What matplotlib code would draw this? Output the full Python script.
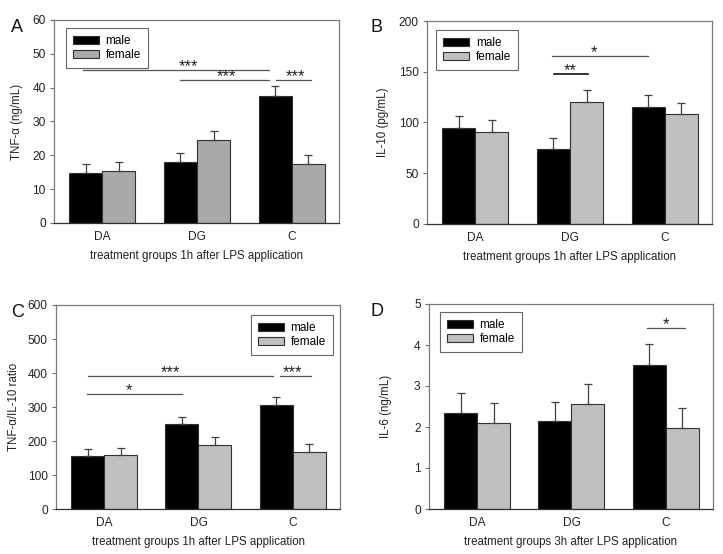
import matplotlib
matplotlib.use("Agg")
import matplotlib.pyplot as plt
import matplotlib.transforms as mtransforms
import numpy as np

plt.rcParams['font.family'] = ['Liberation Sans', 'DejaVu Sans']

groups = ["DA", "DG", "C"]
series = ["male", "female"]

# Panel A: TNF-alpha (ng/mL), 1h
a_male = [14.8, 18.0, 37.6]
a_male_err = [2.6, 2.65, 2.8]
a_female = [15.4, 24.4, 17.4]
a_female_err = [2.6, 2.7, 2.7]

# Panel B: IL-10 (pg/mL), 1h
b_male = [95.0, 73.5, 115.5]
b_male_err = [11.3, 11.5, 12.0]
b_female = [90.5, 120.5, 108.5]
b_female_err = [11.5, 12.0, 11.0]

# Panel C: TNF-alpha/IL-10 ratio, 1h
c_male = [155, 249, 305]
c_male_err = [22, 22, 25]
c_female = [158, 188, 169]
c_female_err = [22, 23, 23]

# Panel D: IL-6 (ng/mL), 3h
d_male = [2.35, 2.15, 3.52]
d_male_err = [0.47, 0.47, 0.50]
d_female = [2.09, 2.56, 1.98]
d_female_err = [0.49, 0.50, 0.49]

# significance brackets: (x_start, x_end, y, label, label_x)
a_sig = [(-0.20, 1.757, 45.1, "***", 0.91), (0.825, 1.757, 42.3, "***", 1.31),
         (1.83, 2.20, 42.3, "***", 2.04)]
b_sig = [(0.81, 1.825, 165.8, "*", 1.25), (0.83, 1.19, 147.8, "**", 1.0)]
c_sig = [(-0.17, 1.79, 391, "***", 0.70), (-0.18, 0.825, 338, "*", 0.265),
         (1.86, 2.19, 391, "***", 2.0)]
d_sig = [(1.80, 2.20, 4.42, "*", 2.0)]

fig = plt.figure(figsize=(7.23, 5.54), dpi=100)

W, H = 723.0, 554.0
def axes_px(l, t, r, b):
    return fig.add_axes([l / W, 1 - b / H, (r - l) / W, (b - t) / H])

panels = [
    dict(ax=axes_px(54, 20, 339, 223), letter="A", lpos=(11, 32),
         male=a_male, me=a_male_err, female=a_female, fe=a_female_err,
         fcol="#a9a9a9", ylim=(0, 60), yt=np.arange(0, 61, 10),
         ylabel="TNF-\u03b1 (ng/mL)", xlabel="treatment groups 1h after LPS application",
         sig=a_sig, leg=("upper left", (0.042, 0.96)), ylc=-0.11),
    dict(ax=axes_px(427, 21, 712, 224), letter="B", lpos=(371, 32),
         male=b_male, me=b_male_err, female=b_female, fe=b_female_err,
         fcol="#c0c0c0", ylim=(0, 200), yt=np.arange(0, 201, 50),
         ylabel="IL-10 (pg/mL)", xlabel="treatment groups 1h after LPS application",
         sig=b_sig, leg=("upper left", (0.032, 0.956)), ylc=-0.135),
    dict(ax=axes_px(56, 305, 340, 509), letter="C", lpos=(11, 317),
         male=c_male, me=c_male_err, female=c_female, fe=c_female_err,
         fcol="#c0c0c0", ylim=(0, 600), yt=np.arange(0, 601, 100),
         ylabel="TNF-\u03b1/IL-10 ratio", xlabel="treatment groups 1h after LPS application",
         sig=c_sig, leg=("upper right", (0.975, 0.951)), ylc=-0.125),
    dict(ax=axes_px(429, 304, 713, 509), letter="D", lpos=(371, 316),
         male=d_male, me=d_male_err, female=d_female, fe=d_female_err,
         fcol="#c0c0c0", ylim=(0, 5), yt=np.arange(0, 6, 1),
         ylabel="IL-6 (ng/mL)", xlabel="treatment groups 3h after LPS application",
         sig=d_sig, leg=("upper left", (0.039, 0.961)), ylc=-0.13),
]

tfs = 8.6
lfs = 8.3
bw = 0.35
x = np.arange(len(groups))
for p in panels:
    ax = p["ax"]
    n = len(groups)
    ax.bar(x - bw / 2, p["male"], bw, color="black", edgecolor="#303030",
           linewidth=0.8, label=series[0], zorder=2,
           yerr=[np.zeros(n), p["me"]], capsize=3.2,
           error_kw=dict(ecolor="#404040", elinewidth=0.9, capthick=0.9))
    ax.bar(x + bw / 2, p["female"], bw, color=p["fcol"], edgecolor="#303030",
           linewidth=0.8, label=series[1], zorder=2,
           yerr=[np.zeros(n), p["fe"]], capsize=3.2,
           error_kw=dict(ecolor="#404040", elinewidth=0.9, capthick=0.9))
    ax.set_xlim(-0.51, 2.5)
    ax.set_ylim(*p["ylim"])
    ax.set_yticks(p["yt"])
    ax.set_xticks(x)
    ax.set_xticklabels(groups)
    ax.tick_params(axis="x", length=0, pad=6, labelsize=tfs, colors="#222222")
    ax.tick_params(axis="y", length=3, width=0.8, pad=3, labelsize=tfs,
                   colors="#222222", color="#707070", direction="out")
    for s in ["left", "top", "right"]:
        ax.spines[s].set_color("#7a7a7a")
        ax.spines[s].set_linewidth(0.9)
    ax.spines["bottom"].set_color("#303030")
    ax.spines["bottom"].set_linewidth(0.9)
    ax.set_ylabel(p["ylabel"], fontsize=lfs, color="#222222")
    ax.yaxis.set_label_coords(p["ylc"], 0.5)
    ax.set_xlabel(p["xlabel"], fontsize=lfs, color="#222222", labelpad=5)
    star_tr = mtransforms.offset_copy(ax.transData, fig=fig, x=0, y=-1.0, units="dots")
    for (x0, x1, yv, lab, lx) in p["sig"]:
        lc = "#111111" if lab == "**" else "#555555"
        ax.plot([x0, x1], [yv, yv], color=lc, lw=0.9 if lab != "**" else 1.2, zorder=3)
        ax.text(lx, yv, lab, ha="center", va="baseline", transform=star_tr,
                fontsize=12, color="#222222")
    leg = ax.legend(loc=p["leg"][0], bbox_to_anchor=p["leg"][1], borderaxespad=0,
                    fontsize=8.5, frameon=True, fancybox=False,
                    handlelength=2.2, handleheight=0.65, handletextpad=0.55,
                    labelspacing=0.15, borderpad=0.6)
    leg.get_frame().set_edgecolor("#404040")
    leg.get_frame().set_linewidth(0.8)
    fig.text(p["lpos"][0] / W, 1 - p["lpos"][1] / H, p["letter"], fontsize=13,
             ha="left", va="baseline", color="#111111")

fig.savefig("out.png", dpi=100)
